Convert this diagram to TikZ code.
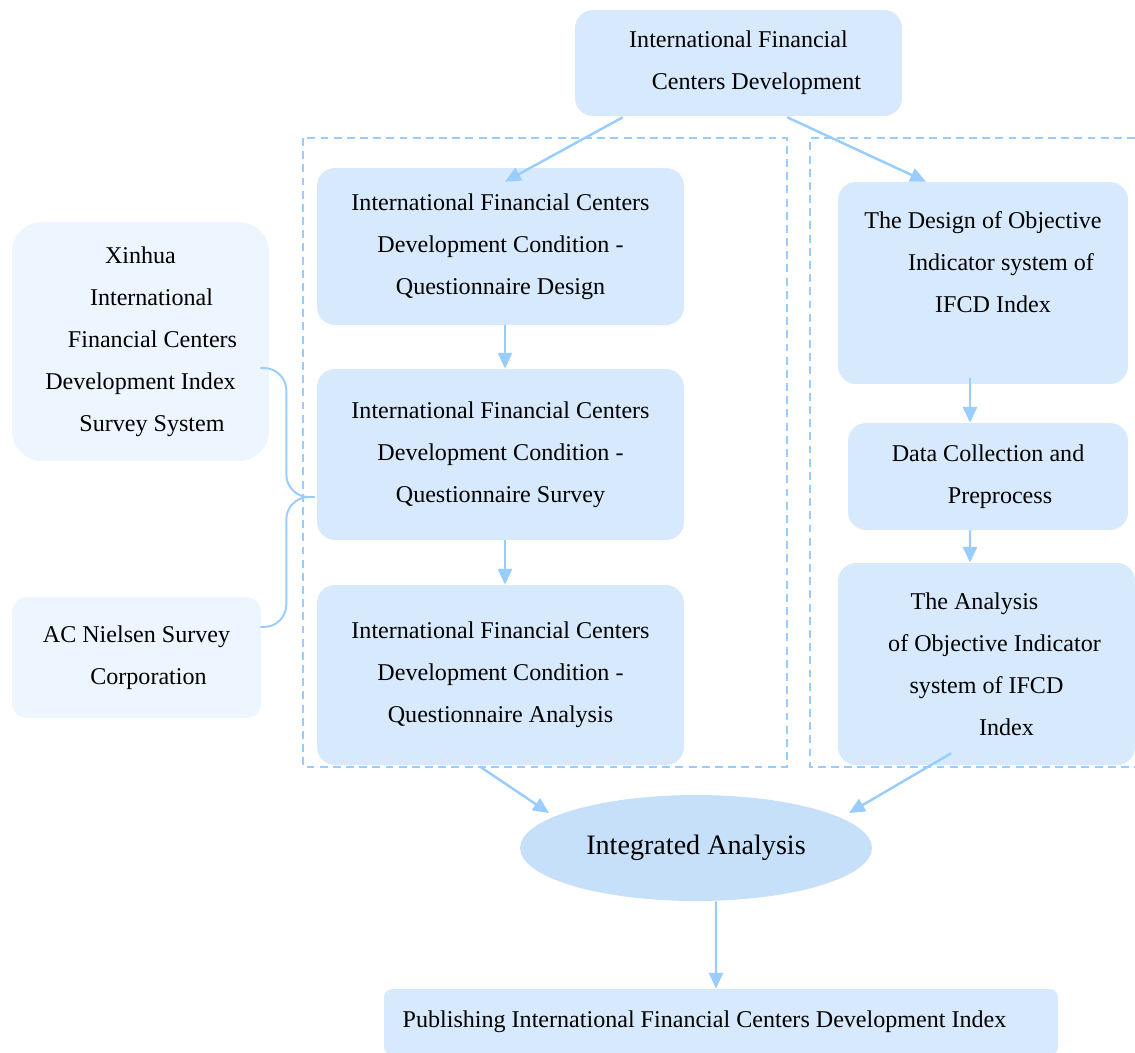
\documentclass[tikz,border=0pt]{standalone}
\usepackage{fontspec}
\setmainfont{Liberation Serif}
\usepackage{tikz}
\usetikzlibrary{shapes,arrows.meta,positioning,calc}
\definecolor{boxblue}{RGB}{215,233,252}
\definecolor{paleblue}{RGB}{237,245,254}
\definecolor{ovalblue}{RGB}{198,224,250}
\definecolor{lineblue}{RGB}{153,204,255}

\begin{document}
\begin{tikzpicture}[x=0.02cm, y=-0.02cm,
    box/.style={rectangle, rounded corners=0.36cm, fill=boxblue, align=center, inner sep=0pt,
        font=\fontsize{13.7}{23.9}\selectfont},
    side/.style={box, fill=paleblue},
    txt/.style={align=center, inner sep=0pt, font=\fontsize{13.7}{23.9}\selectfont},
    link/.style={lineblue, line width=1.4pt},
    arr/.style={link, -{Triangle[length=9pt,width=8pt]}},
    frame/.style={lineblue, line width=1pt, dash pattern=on 4.5pt off 3pt}]
    \useasboundingbox (0,0) rectangle (1135,1052);

    % Dashed frames
    \draw[frame] (303,138) rectangle (787,767);
    \draw[frame] (1135,138) -- (810,138) -- (810,767) -- (1135,767);

    % Top
    \node[box, minimum width=6.54cm, minimum height=2.12cm] (top) at (738.5,63)
        {International Financial\\\hspace*{0.72cm}Centers Development};

    % Questionnaire column
    \node[box, minimum width=7.34cm, minimum height=3.14cm] (cond1) at (500.5,246.5)
        {International Financial Centers\\Development Condition -\\Questionnaire Design};
    \node[box, minimum width=7.34cm, minimum height=3.42cm] (cond2) at (500.5,454.5)
        {International Financial Centers\\Development Condition -\\Questionnaire Survey};
    \node[box, minimum width=7.34cm, minimum height=3.6cm] (cond3) at (500.5,675)
        {International Financial Centers\\Development Condition -\\Questionnaire Analysis};

    % Objective indicator column
    \node[box, minimum width=5.8cm, minimum height=4.04cm] (design) at (983,283) {};
    \node[txt] (designtxt) at ([yshift=0.42cm]design.center)
        {The Design of Objective\\\hspace*{0.72cm}Indicator system of\\\hspace*{0.4cm}IFCD Index};
    \node[box, minimum width=5.6cm, minimum height=2.14cm] (prep) at (988,476.5)
        {Data Collection and\\\hspace*{0.48cm}Preprocess};
    \node[box, minimum width=5.94cm, minimum height=4.04cm] (ana) at (986.5,664)
        {The Analysis\hspace*{0.48cm}\\\hspace*{0.32cm}of Objective Indicator\\system of IFCD\\\hspace*{0.8cm}Index};

    % Survey organisations
    \node[side, rounded corners=0.6cm, minimum width=5.14cm, minimum height=4.78cm] (xin) at (140.5,341.5)
        {Xinhua\\\hspace*{0.44cm}International\\\hspace*{0.48cm}Financial Centers\\Development Index\\\hspace*{0.46cm}Survey System};
    \node[side, rounded corners=0.3cm, minimum width=4.98cm, minimum height=2.42cm] (nielsen) at (136.5,657.5)
        {AC Nielsen Survey\\\hspace*{0.48cm}Corporation};

    % Integration and publishing
    \node[ellipse, fill=ovalblue, minimum width=7.04cm, minimum height=2.12cm, inner sep=0pt,
        font=\fontsize{16}{19}\selectfont] (ia) at (696,848) {Integrated Analysis};
    \node[box, rounded corners=0.16cm, minimum width=13.48cm, minimum height=1.32cm] (pub) at (721,1022)
        {Publishing International Financial Centers Development Index\hspace*{0.66cm}};

    % Arrows
    \draw[arr] ([shift={(48,1)}]top.south west) -- ([shift={(4.5,14)}]cond1.north);
    \draw[arr] ([shift={(-115,1)}]top.south east) -- ([shift={(-57,0)}]design.north);
    \draw[arr] ([xshift=0.09cm]cond1.south) -- ([xshift=0.09cm]cond2.north);
    \draw[arr] ([xshift=0.09cm]cond2.south) -- ([xshift=0.09cm]cond3.north);
    \draw[arr] ([shift={(-13,-6)}]design.south) -- ([shift={(-18,0)}]prep.north);
    \draw[arr] ([xshift=-0.36cm]prep.south) -- ([shift={(-16.5,0)}]ana.north);
    \draw[arr] ([shift={(-19.5,2)}]cond3.south) -- ([shift={(-147,-35)}]ia.center);
    \draw[arr] ([shift={(-35.5,-12)}]ana.south) -- ([shift={(153,-35)}]ia.center);
    \draw[arr] ([xshift=0.4cm]ia.south) -- ([xshift=-0.1cm]pub.north);

    % Brace
    \coordinate (bt) at ([shift={(-9,26.5)}]xin.east);
    \coordinate (bb) at ([shift={(-1,-30.5)}]nielsen.east);
    \coordinate (btip) at ([shift={(-2,42.5)}]cond2.west);
    \draw[link, line width=1.1pt, rounded corners=0.45cm] (bt) -- ++(26,0) |- (btip);
    \draw[link, line width=1.1pt, rounded corners=0.45cm] (bb) -- ++(26,0) |- (btip);

\end{tikzpicture}
\end{document}
